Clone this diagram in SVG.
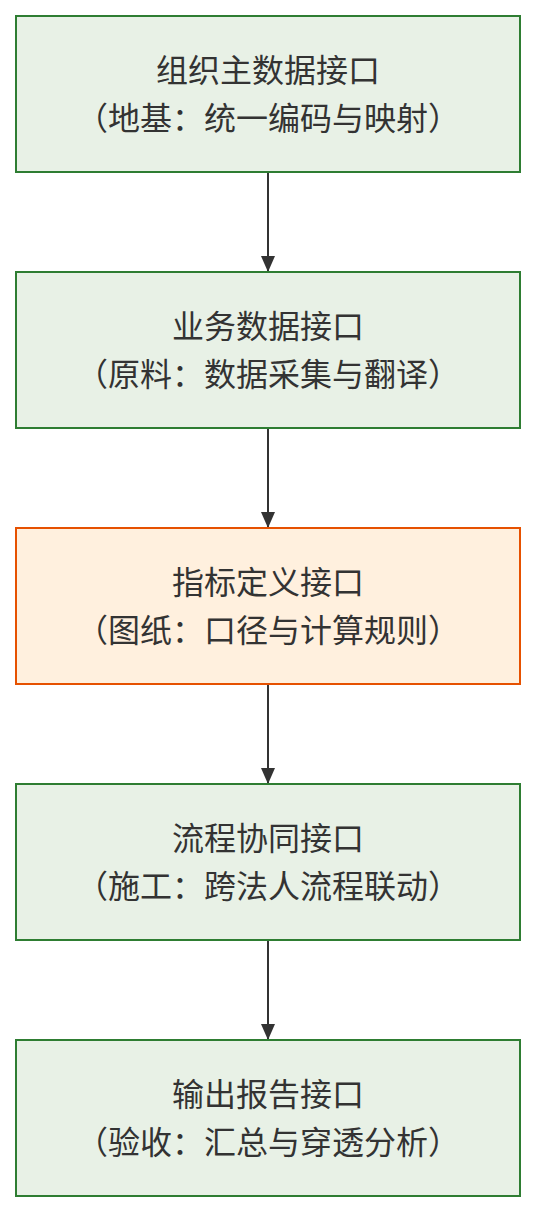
<svg xmlns="http://www.w3.org/2000/svg" width="536" height="1212" viewBox="0 0 536 1212">
<defs>
<style>
.g rect{fill:#e8f1e6;stroke:#2e7d32;stroke-width:2}
.o rect{fill:#fff0de;stroke:#e65100;stroke-width:2}
text{font-family:"Noto Sans CJK SC","Noto Sans",sans-serif;font-size:32px;fill:#333;text-anchor:middle}
.edge{stroke:#333;stroke-width:2;fill:none;marker-end:url(#arr)}
</style>
<marker id="arr" viewBox="0 0 16 14" refX="16" refY="7" markerWidth="16" markerHeight="14" markerUnits="userSpaceOnUse" orient="auto">
<path d="M0,0 L16,7 L0,14 Z" fill="#333"/>
</marker>
</defs>
<rect width="536" height="1212" fill="#fff"/>
<g id="edges">
<path class="edge" d="M268,172 V272"/>
<path class="edge" d="M268,428 V528"/>
<path class="edge" d="M268,684 V784"/>
<path class="edge" d="M268,940 V1040"/>
</g>
<g id="n1" class="g"><rect x="16" y="16" width="504" height="156"/><text x="268" y="82">组织主数据接口</text><text x="268" y="130">（地基：统一编码与映射）</text></g>
<g id="n2" class="g"><rect x="16" y="272" width="504" height="156"/><text x="268" y="338">业务数据接口</text><text x="268" y="386">（原料：数据采集与翻译）</text></g>
<g id="n3" class="o"><rect x="16" y="528" width="504" height="156"/><text x="268" y="594">指标定义接口</text><text x="268" y="642">（图纸：口径与计算规则）</text></g>
<g id="n4" class="g"><rect x="16" y="784" width="504" height="156"/><text x="268" y="850">流程协同接口</text><text x="268" y="898">（施工：跨法人流程联动）</text></g>
<g id="n5" class="g"><rect x="16" y="1040" width="504" height="156"/><text x="268" y="1106">输出报告接口</text><text x="268" y="1154">（验收：汇总与穿透分析）</text></g>
</svg>
